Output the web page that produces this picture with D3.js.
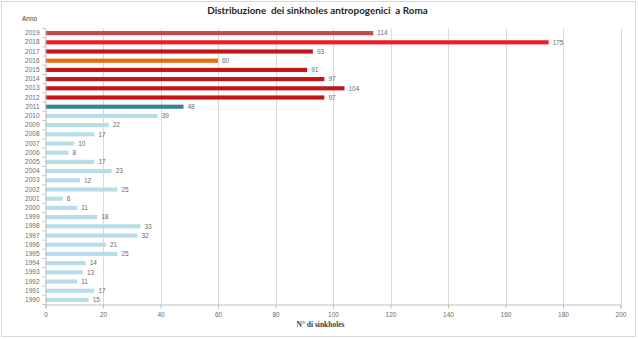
<!DOCTYPE html>
<html><head><meta charset="utf-8">
<script src="https://cdn.jsdelivr.net/npm/d3@7"></script>
<style>body{margin:0;background:#fff}svg{display:block}</style>
</head><body>
<script>
const years = ["2019","2018","2017","2016","2015","2014","2013","2012","2011","2010","2009","2008","2007","2006","2005","2004","2003","2002","2001","2000","1999","1998","1997","1996","1995","1994","1993","1992","1991","1990"];
const counts = [114,175,93,60,91,97,104,97,48,39,22,17,10,8,17,23,12,25,6,11,18,33,32,21,25,14,13,11,17,15];
const barColors = ["#bf4b4b","#ee1c24","#c0161c","#e46c0a","#c0161c","#c0161c","#c0161c","#c0161c","#31849b","#b7dde8","#b7dde8","#b7dde8","#b7dde8","#b7dde8","#b7dde8","#b7dde8","#b7dde8","#b7dde8","#b7dde8","#b7dde8","#b7dde8","#b7dde8","#b7dde8","#b7dde8","#b7dde8","#b7dde8","#b7dde8","#b7dde8","#b7dde8","#b7dde8"];
const xTicks = [0,20,40,60,80,100,120,140,160,180,200];
const title = "Distribuzione  dei sinkholes antropogenici  a Roma";
const xTitle = "N° di sinkholes";
const yTitle = "Anno";

(function(){
const W = 638, H = 339;
const svg = d3.select("body").append("svg").attr("width", W).attr("height", H);
svg.append("rect").attr("x",1.5).attr("y",1.5).attr("width",634).attr("height",335)
  .attr("fill","#fff").attr("stroke","#d9d9d9");

const pL = 45.5, pR = 620.5, pT = 28.5, pB = 304.5;
const x = d3.scaleLinear().domain([0,200]).range([pL,pR]);
const y = d3.scaleBand().domain(years).range([pT,pB]).paddingInner(0.55).paddingOuter(0.275);

svg.append("g").selectAll("line").data(xTicks.slice(1)).join("line")
  .attr("x1",d=>Math.round(x(d))+0.5).attr("x2",d=>Math.round(x(d))+0.5)
  .attr("y1",pT).attr("y2",pB).attr("stroke","#d9d9d9").attr("stroke-width",1);

svg.append("g").selectAll("rect").data(years).join("rect")
  .attr("x",x(0)).attr("y",d=>y(d))
  .attr("width",(d,i)=>x(counts[i])-x(0)).attr("height",y.bandwidth())
  .attr("fill",(d,i)=>barColors[i]);

svg.append("g").selectAll("text").data(years).join("text")
  .attr("x",(d,i)=>x(counts[i])+4).attr("y",d=>y(d)+y.bandwidth()/2)
  .attr("dy","0.35em").attr("font-family","Liberation Sans, Arial, sans-serif")
  .attr("font-size",6.5).attr("fill","#6b6b6b").text((d,i)=>counts[i]);

const xa = svg.append("g").attr("transform",`translate(0,${pB})`)
  .call(d3.axisBottom(x).tickValues(xTicks).tickSize(4).tickPadding(4));
xa.select(".domain").attr("stroke","#bfbfbf");
xa.selectAll(".tick line").attr("stroke","#bfbfbf");
xa.selectAll("text").attr("font-family","Liberation Sans, Arial, sans-serif").attr("font-size",6.5).attr("fill","#6b6b6b");

const ya = svg.append("g").attr("transform",`translate(${pL},0)`)
  .call(d3.axisLeft(y).tickSize(0).tickPadding(6));
ya.select(".domain").attr("stroke","#bfbfbf");
ya.selectAll("text").attr("font-family","Liberation Sans, Arial, sans-serif").attr("font-size",6.5).attr("fill","#6b6b6b");
const bounds = years.map(d=>y(d)-y.step()*y.paddingInner()/2).concat([pB]);
svg.append("g").selectAll("line").data(bounds).join("line")
  .attr("x1",pL-3).attr("x2",pL).attr("y1",d=>d).attr("y2",d=>d).attr("stroke","#bfbfbf");

svg.append("text").attr("x",317.5).attr("y",13.5).attr("text-anchor","middle")
  .attr("font-family","Lato, sans-serif").attr("font-weight","bold").attr("font-size",9.9)
  .attr("fill","#262626").style("white-space","pre").text(title);
svg.append("text").attr("x",22).attr("y",20.5)
  .attr("font-family","Liberation Sans, Arial, sans-serif").attr("font-size",6.5)
  .attr("fill","#404040").text(yTitle);
svg.append("text").attr("x",320.5).attr("y",327).attr("text-anchor","middle")
  .attr("font-family","Liberation Serif, serif").attr("font-weight","bold").attr("font-size",7.5)
  .attr("fill","#404040").text(xTitle);
})();
</script>
</body></html>
